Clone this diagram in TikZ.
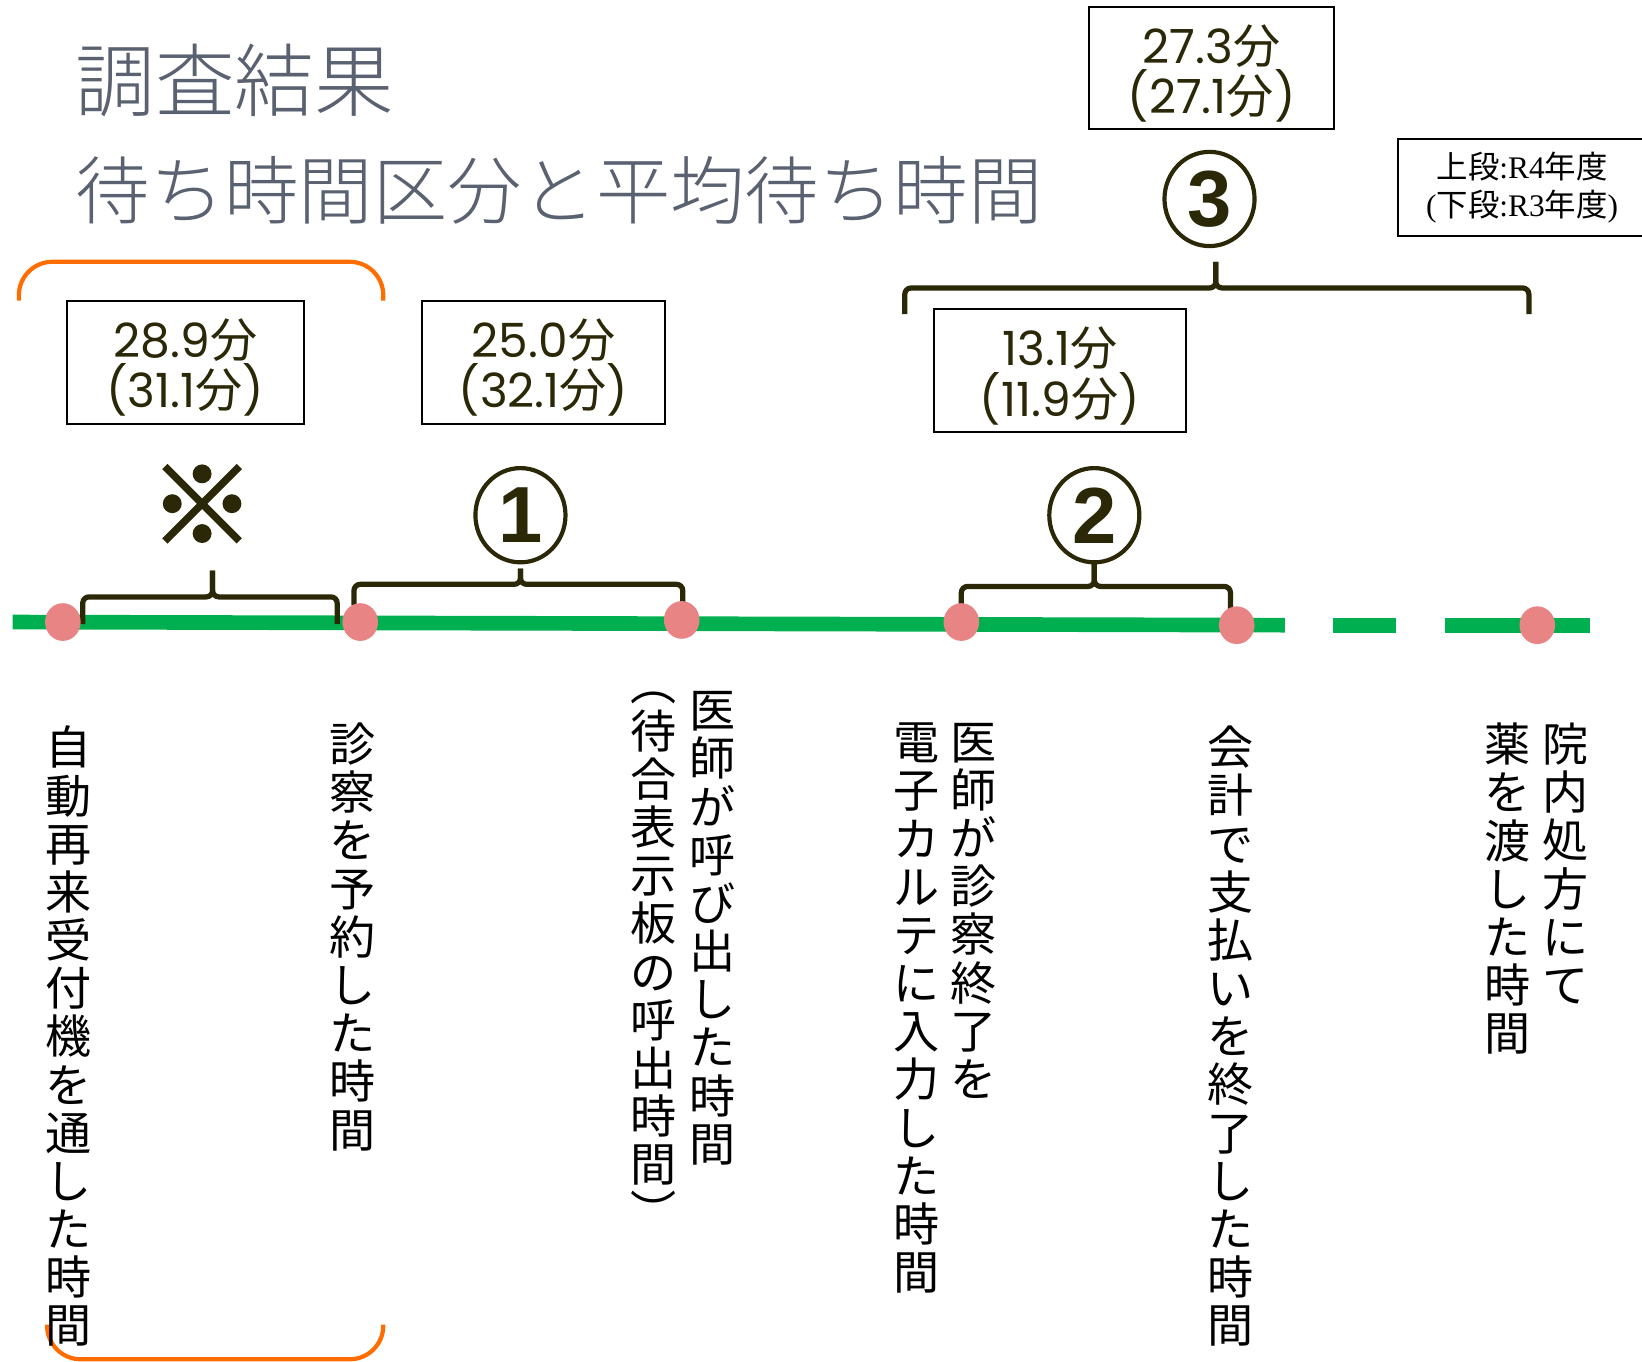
\documentclass[tikz,border=0pt]{standalone}
\usepackage{fontspec}
\setmainfont{Poppins}[Numbers=Monospaced]
\newfontfamily\jp{Noto Sans CJK JP}
\IfFontExistsTF{Noto Sans CJK JP Light}{\newfontfamily\jpl{Noto Sans CJK JP Light}}{\newfontfamily\jpl{Noto Sans CJK JP}}
\newfontfamily\jpb[FakeBold=3]{Noto Sans CJK JP}
\newfontfamily\lib{Liberation Serif}
\newfontfamily\libs{Liberation Sans}
\usetikzlibrary{shapes.geometric}
\definecolor{ttl}{HTML}{5A6170}
\definecolor{ink}{HTML}{2B2808}
\definecolor{grn}{HTML}{00B050}
\definecolor{pnk}{HTML}{E88484}
\definecolor{org}{HTML}{FF6D00}
\newcommand\fn{{\jp 分}}
\tikzset{
  titletext/.style={text=ttl, inner sep=0, anchor=west, font=\jpl\fontsize{35.5pt}{40pt}\selectfont},
  numframe/.style={draw=black, line width=1pt, inner sep=0},
  numtext/.style={align=center, text=ink, inner sep=0,
    font=\fontsize{22.5pt}{24pt}\selectfont},
  legbox/.style={draw=black, line width=1pt, align=center, text=black, inner sep=0,
    font=\fontsize{15pt}{18pt}\selectfont},
  circnum/.style={ellipse, draw=ink, line width=2pt, text=ink, inner sep=0,
    minimum width=43pt, minimum height=45pt, font=\libs\bfseries\fontsize{38pt}{38pt}\selectfont},
  vcol/.style={align=center, anchor=north, inner sep=0, text=black,
    font=\jp\fontsize{22pt}{23pt}\selectfont},
  pdot/.style={ellipse, fill=pnk, inner sep=0, minimum width=17pt, minimum height=18pt},
  brace/.style={draw=ink, line width=2.5pt, rounded corners=3pt},
  obrace/.style={draw=org, line width=2pt, rounded corners=16pt},
  gline/.style={draw=grn, line width=7pt}
}
\begin{document}
\begin{tikzpicture}[x=0.5pt,y=-0.5pt]
\useasboundingbox (0,0) rectangle (1568,1300);
% titles
\node[titletext, font=\jpl\fontsize{38pt}{40pt}\selectfont] (t1) at (72,77) {調査結果};
\node[titletext] (t2) at (72,182) {待ち時間区分と平均待ち時間};
% orange brackets
\draw[obrace] (18,287) -- (18,250) -- (366,250) -- (366,287);
\draw[obrace] (45,1265) -- (45,1298) -- (366,1298) -- (366,1265);
% boxes
\node[numframe, minimum width=113pt, minimum height=58.5pt] (bA) at (177,346) {};
\node[numtext] (tA) at ([yshift=-2.5pt]bA.center) {28.9\fn\\(31.1\fn)};
\node[numframe, minimum width=116pt, minimum height=58.5pt] (bB) at (519,346) {};
\node[numtext] (tB) at ([yshift=-2.5pt]bB.center) {25.0\fn\\(32.1\fn)};
\node[numframe, minimum width=120.5pt, minimum height=58.5pt] (bC) at (1012,354) {};
\node[numtext] (tC) at ([yshift=-2.5pt]bC.center) {13.1\fn\\(11.9\fn)};
\node[numframe, minimum width=117pt, minimum height=58.5pt] (bD) at (1157,65) {};
\node[numtext] (tD) at ([yshift=-2.5pt]bD.center) {27.3\fn\\(27.1\fn)};
\node[legbox, minimum width=118.5pt, minimum height=46pt] (leg) at (1453.5,179)
  {{\jp 上段}{\lib :R4}{\jp 年度}\\{\lib (}{\jp 下段}{\lib :R3}{\jp 年度}{\lib )}};
% marks
\node[text=ink, inner sep=0, font=\jpb\fontsize{50pt}{50pt}\selectfont] (kome) at (193,482) {※};
\node[circnum] (c1) at (497,492) {1};
\node[circnum] (c2) at (1045,492) {2};
\node[circnum] (c3) at (1155,190) {3};
% green time line
\draw[gline] (12,594) -- (1227,597);
\draw[gline] (1273,597) -- (1333,597);
\draw[gline] (1380,597) -- (1518,597);
% braces
\draw[brace] (79,596) -- (79,570) -- (203,570) -- (203,545);
\draw[brace] (203,545) -- (203,570) -- (322,570) -- (322,596);
\draw[brace] (338,578) -- (338,558) -- (497,558) -- (497,543);
\draw[brace] (497,543) -- (497,558) -- (652,558) -- (652,580);
\draw[brace] (918,582) -- (918,560) -- (1045,560) -- (1045,538);
\draw[brace] (1045,538) -- (1045,560) -- (1175,560) -- (1175,584);
\draw[brace] (864,300) -- (864,275) -- (1161,275) -- (1161,250);
\draw[brace] (1161,250) -- (1161,275) -- (1460,275) -- (1460,300);
% dots
\node[pdot] (p1) at (60,594) {};
\node[pdot] (p2) at (344,594) {};
\node[pdot] (p3) at (651,592) {};
\node[pdot] (p4) at (918,594) {};
\node[pdot] (p5) at (1181,597) {};
\node[pdot] (p6) at (1468,597) {};
% vertical labels
\node[vcol] (v1) at (65,693) {自\\動\\再\\来\\受\\付\\機\\を\\通\\し\\た\\時\\間};
\node[vcol] (v2) at (337,690) {診\\察\\を\\予\\約\\し\\た\\時\\間};
\node[vcol] (v3a) at (680,660) {医\\師\\が\\呼\\び\\出\\し\\た\\時\\間};
\node[vcol] (v3b) at (624,660) {︵\\待\\合\\表\\示\\板\\の\\呼\\出\\時\\間\\︶};
\node[vcol] (v4a) at (930,690) {医\\師\\が\\診\\察\\終\\了\\を};
\node[vcol] (v4b) at (875,690) {電\\子\\カ\\ル\\テ\\に\\入\\力\\し\\た\\時\\間};
\node[vcol] (v5) at (1175,693) {会\\計\\で\\支\\払\\い\\を\\終\\了\\し\\た\\時\\間};
\node[vcol] (v6a) at (1495,690) {院\\内\\処\\方\\に\\て};
\node[vcol] (v6b) at (1440,690) {薬\\を\\渡\\し\\た\\時\\間};
\end{tikzpicture}
\end{document}
